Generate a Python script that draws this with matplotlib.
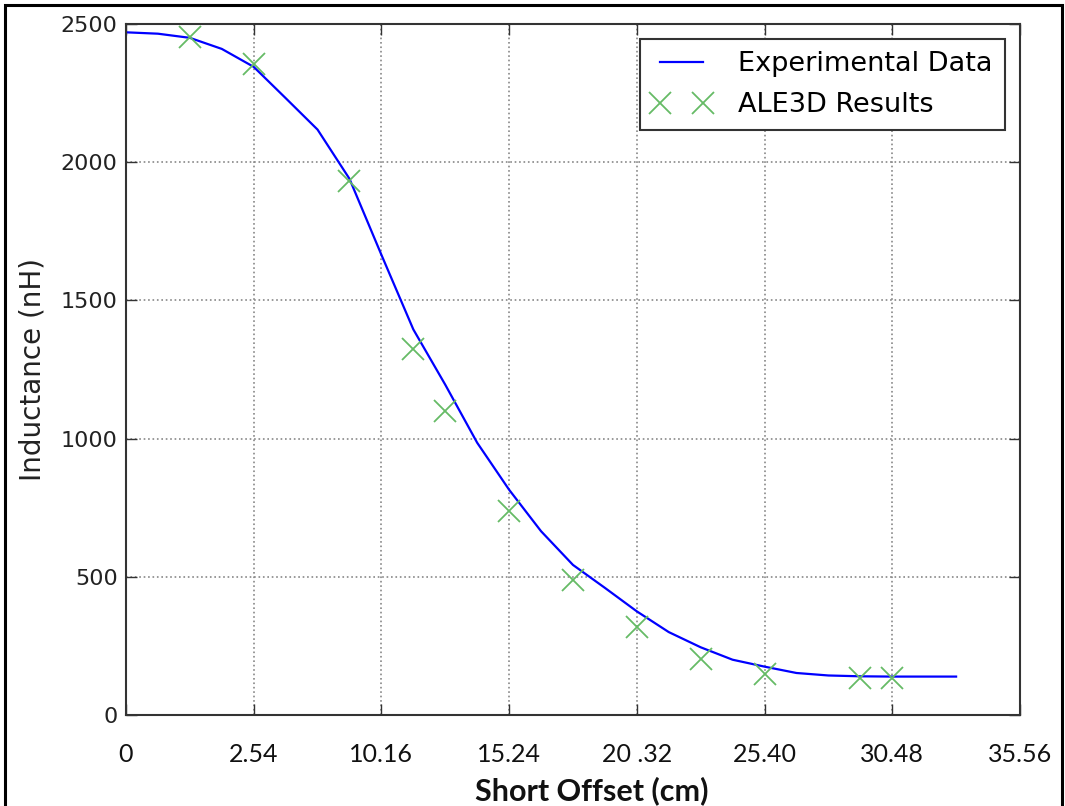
import numpy as np
import matplotlib
matplotlib.use('Agg')
import matplotlib.pyplot as plt
from matplotlib.patches import Rectangle

# dados experimentais (offset em polegadas, indutancia em nH)
exp_x = [0, 0.5, 1.0, 1.5, 2.0, 2.5, 3.0, 3.5, 4.0, 4.5, 5.0, 5.5, 6.0, 6.5,
         7.0, 7.5, 8.0, 8.5, 9.0, 9.5, 10.0, 10.5, 11.0, 11.5, 12.0, 12.5, 13.0]
exp_y = [2470, 2465, 2450, 2410, 2345, 2232, 2118, 1940, 1665, 1395, 1195, 985,
         815, 665, 543, 460, 375, 300, 245, 200, 175, 152, 143, 140, 139, 139, 139]

# resultados ALE3D
ale_x = [1.0, 2.0, 3.5, 4.5, 5.0, 6.0, 7.0, 8.0, 9.0, 10.0, 11.5, 12.0]
ale_y = [2453, 2355, 1932, 1324, 1100, 738, 488, 318, 203, 148, 134, 134]

xticks = [0, 2, 4, 6, 8, 10, 12, 14]
xtick_labels = ['0', '2.54', '10.16', '15.24', '20 .32', '25.40', '30.48', '35.56']
yticks = [0, 500, 1000, 1500, 2000, 2500]

fig = plt.figure(figsize=(10.65, 8.06), dpi=100)
ax = fig.add_axes([0.1183, 0.1129, 0.8394, 0.8573])

ax.plot(exp_x, exp_y, '-', color='#0000ff', lw=1.6, label='Experimental Data')
ax.plot(ale_x, ale_y, 'x', color='#66bb66', ms=16, mew=1.3, linestyle='none',
        label='ALE3D Results')

ax.set_xlim(0, 14)
ax.set_ylim(0, 2500)
ax.set_xticks(xticks)
ax.set_xticklabels(xtick_labels, family='Lato', fontsize=18, color='#111111')
ax.set_yticks(yticks)
ax.tick_params(axis='y', labelsize=16, labelcolor='#222222', pad=6)
ax.tick_params(axis='x', pad=20)
ax.tick_params(direction='in', length=8, width=1, color='#333333',
               top=True, right=True)

ax.grid(True, linestyle=':', color='#888888', lw=1.2)
for s in ax.spines.values():
    s.set_color('#333333')
    s.set_linewidth(1.5)

ax.set_ylabel('Inductance (nH)', fontsize=20, color='#222222', labelpad=10)
fig.text(592 / 1065, 1 - 791 / 806, 'Short Offset (cm)', family='Lato',
         fontweight='bold', fontsize=22, ha='center', va='center', color='#111111')

leg = ax.legend(loc='upper right', fontsize=19.5, numpoints=2, fancybox=False,
                framealpha=1, borderaxespad=0.55, handlelength=2.2,
                handletextpad=1.0, borderpad=0.45, labelspacing=0.55)
leg.get_frame().set_edgecolor('#333333')
leg.get_frame().set_linewidth(1.5)

# moldura externa da figura
fig.add_artist(Rectangle((5 / 1065, -0.05), 1057 / 1065, 1.05 - 5 / 806,
                         transform=fig.transFigure, fill=False,
                         edgecolor='black', lw=2.2))

plt.savefig('out.png', dpi=100)
plt.close()
